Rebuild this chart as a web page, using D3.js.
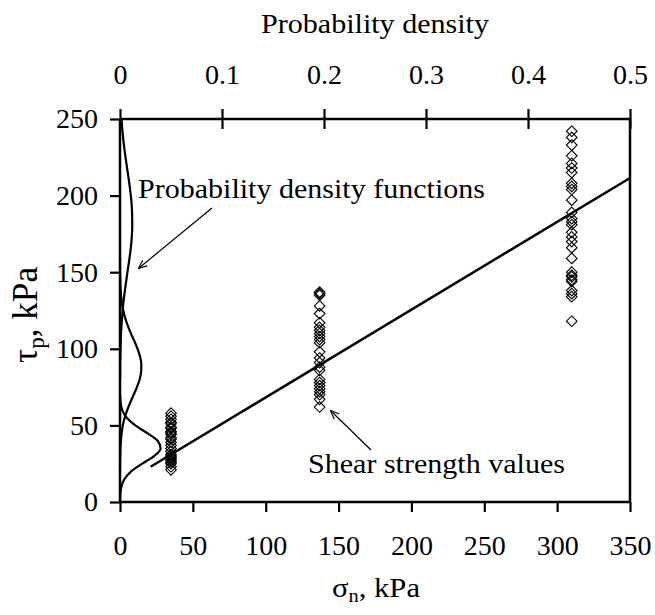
<!DOCTYPE html>
<html><head><meta charset="utf-8">
<script src="https://cdn.jsdelivr.net/npm/d3@7/dist/d3.min.js"></script>
<style>body{margin:0;background:#fff}</style>
</head><body><svg id="c" width="655" height="615"></svg>
<script>
// ---- data ----
const normalStress = [35, 137, 310];
const shear35  = [58, 56, 54, 52, 51, 49, 48, 46, 45, 44, 42, 41, 39, 37, 35, 33, 31, 30, 29, 28, 27, 26, 25, 23, 21];
const shear137 = [137, 136, 135, 128, 123, 117, 114, 112, 110, 108, 106, 104, 98, 94, 91, 88, 86, 80, 78, 76, 74, 72, 70, 67, 62];
const shear310 = [242, 238, 233, 226, 221, 218, 215, 208, 206, 204, 197, 189, 185, 183, 181, 176, 173, 170, 166, 159, 150, 148, 147, 145, 144, 138, 136, 134, 118];
const fitSigma = [21, 350];
const fitTau   = [23, 211.5];
// probability density curves (tau kPa, density)
const pdf1Tau = [0, 5, 10, 15, 20, 25, 30, 35, 40, 45, 50, 55, 60, 65, 70];
const pdf1Den = [0.0001, 0.0003, 0.0014, 0.0044, 0.011, 0.0218, 0.0334, 0.0398, 0.0369, 0.0267, 0.015, 0.0066, 0.0022, 0.0006, 0.0001];
const pdf2Tau = [20, 30, 40, 50, 55, 60, 65, 70, 75, 80, 85, 90, 95, 100, 105, 110, 115, 120, 125, 130, 140, 150, 160];
const pdf2Den = [0.0000, 0.0002, 0.0009, 0.0028, 0.0046, 0.0071, 0.0101, 0.0134, 0.0166, 0.0192, 0.0207, 0.0209, 0.0196, 0.0172, 0.0141, 0.0107, 0.0077, 0.0051, 0.0032, 0.0018, 0.0005, 0.0001, 0.0000];
const pdf3Tau = [80, 90, 100, 110, 120, 130, 140, 150, 160, 170, 180, 190, 200, 210, 220, 230, 240, 250];
const pdf3Den = [0.0001, 0.0002, 0.0005, 0.0010, 0.0020, 0.0033, 0.0052, 0.0073, 0.0095, 0.0112, 0.0120, 0.0118, 0.0106, 0.0087, 0.0065, 0.0044, 0.0027, 0.0015];
const xTicks = [0, 50, 100, 150, 200, 250, 300, 350];
const yTicks = [0, 50, 100, 150, 200, 250];
const topTicks = [0, 0.1, 0.2, 0.3, 0.4, 0.5];

// ---- chart ----
const FONT = '"Liberation Serif"';
const svg = d3.select("#c").style("font-family", FONT);
const L = 120, R = 630, T = 119, B = 502;
const FS = 28;
const x = d3.scaleLinear([0, 350], [L, R]);
const y = d3.scaleLinear([0, 250], [B, T]);
const xt = d3.scaleLinear([0, 0.5], [L, R]);

svg.append("defs").append("marker").attr("id","ah").attr("viewBox","0 0 10 10")
  .attr("refX",9).attr("refY",5).attr("markerWidth",9).attr("markerHeight",9)
  .attr("markerUnits","userSpaceOnUse").attr("orient","auto")
  .append("path").attr("d","M0,1 L10,5 L0,9").attr("fill","none").attr("stroke","#000").attr("stroke-width",1.3);

// pdf curves
const pdfLine = d3.line().x(d => xt(d[1])).y(d => y(d[0])).curve(d3.curveMonotoneY);
[[pdf1Tau,pdf1Den],[pdf2Tau,pdf2Den],[pdf3Tau,pdf3Den]].forEach(([t,dn]) => {
  svg.append("path").datum(t.map((v,i)=>[v,dn[i]])).attr("d", pdfLine)
    .attr("fill","none").attr("stroke","#000").attr("stroke-width",2.2);
});

// points
const pts = [];
[shear35, shear137, shear310].forEach((arr, i) => arr.forEach(v => pts.push([normalStress[i], v])));
const sym = d3.symbol().type(d3.symbolDiamond2).size(72);
svg.append("g").selectAll("path").data(pts).join("path")
  .attr("transform", d => `translate(${x(d[0])},${y(d[1])})`)
  .attr("d", sym).attr("fill","none").attr("stroke","#000").attr("stroke-width",1.1);

// fit line
svg.append("path").datum(fitSigma.map((v,i)=>[v,fitTau[i]]))
  .attr("d", d3.line().x(d=>x(d[0])).y(d=>y(d[1])))
  .attr("stroke","#000").attr("stroke-width",2.5).attr("fill","none");

// axes
const axW = 2.5;
const gBottom = svg.append("g").attr("transform",`translate(0,${B})`)
  .call(d3.axisBottom(x).tickValues(xTicks).tickSize(10).tickPadding(23).tickFormat(d3.format("d")));
const gLeft = svg.append("g").attr("transform",`translate(${L},0)`)
  .call(d3.axisLeft(y).tickValues(yTicks).tickSize(10).tickPadding(12).tickFormat(d3.format("d")));
const gTop = svg.append("g").attr("transform",`translate(0,${T})`)
  .call(d3.axisTop(xt).tickValues(topTicks).tickSize(10).tickPadding(25).tickFormat(d => d === 0 ? "0" : d3.format(".1f")(d)));
gTop.selectAll(".tick line").attr("y2",-10).attr("y1",10);
[gBottom,gLeft,gTop].forEach(g => {
  g.attr("font-family", null).attr("font-size", null).style("font-family", FONT);
  g.select(".domain").attr("stroke","#000").attr("stroke-width",axW);
  g.selectAll(".tick line").attr("stroke","#000").attr("stroke-width",2.2);
  g.selectAll(".tick text").attr("font-size",FS).style("font-family",FONT).attr("fill","#000");
});
gBottom.select(".domain").attr("d",`M${L},0H${R}`);
gLeft.select(".domain").attr("d",`M0,${B}V${T}`);
gTop.select(".domain").attr("d",`M${L},0H${R}`);
svg.append("line").attr("x1",R).attr("x2",R).attr("y1",T).attr("y2",B).attr("stroke","#000").attr("stroke-width",axW);

// titles
const txt = () => svg.append("text").style("font-family",FONT).attr("fill","#000");
txt().attr("x",375).attr("y",33).attr("text-anchor","middle").attr("font-size",FS)
  .attr("textLength",228).attr("lengthAdjust","spacingAndGlyphs").text("Probability density");
const xl = txt().attr("x",376).attr("y",597).attr("text-anchor","middle").attr("font-size",27)
  .attr("textLength",88).attr("lengthAdjust","spacingAndGlyphs");
xl.append("tspan").text("σ");
xl.append("tspan").attr("font-size",18).attr("dy",5).text("n");
xl.append("tspan").attr("dy",-5).text(", kPa");
const yl = txt().attr("transform","translate(37,315) rotate(-90)").attr("text-anchor","middle").attr("font-size",35)
  .attr("textLength",96).attr("lengthAdjust","spacingAndGlyphs");
yl.append("tspan").text("τ");
yl.append("tspan").attr("font-size",23).attr("dy",7).text("p");
yl.append("tspan").attr("dy",-7).text(", kPa");

// annotations
txt().attr("x",138).attr("y",198).attr("font-size",FS)
  .attr("textLength",347).attr("lengthAdjust","spacingAndGlyphs").text("Probability density functions");
svg.append("line").attr("x1",212).attr("y1",208).attr("x2",139).attr("y2",268)
  .attr("stroke","#000").attr("stroke-width",1.2).attr("marker-end","url(#ah)");
txt().attr("x",308).attr("y",473).attr("font-size",FS)
  .attr("textLength",257).attr("lengthAdjust","spacingAndGlyphs").text("Shear strength values");
svg.append("line").attr("x1",371).attr("y1",450).attr("x2",331).attr("y2",411)
  .attr("stroke","#000").attr("stroke-width",1.2).attr("marker-end","url(#ah)");
</script></body></html>
